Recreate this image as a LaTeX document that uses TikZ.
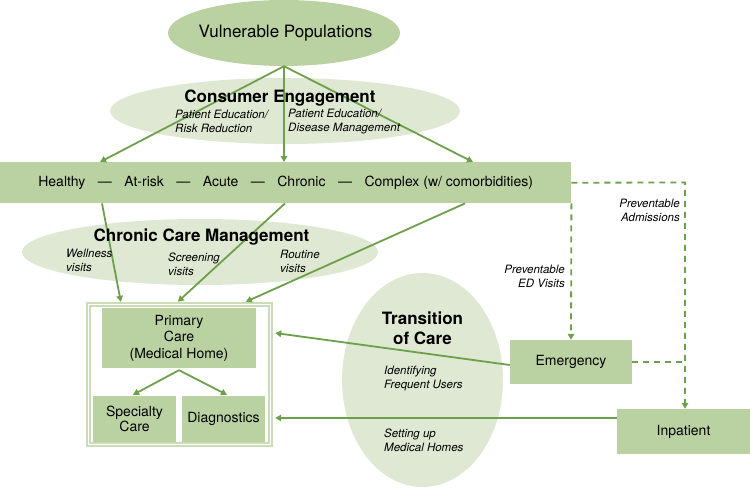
\documentclass[tikz,border=0pt]{standalone}
\usepackage{fontspec}
\setmainfont{TeX Gyre Heros}
\usetikzlibrary{shapes.geometric,arrows.meta,calc}
\definecolor{boxg}{RGB}{186,209,162}
\definecolor{lightg}{RGB}{222,232,210}
\definecolor{frameg}{RGB}{203,221,184}
\definecolor{lineg}{RGB}{110,160,75}
\tikzset{
  boxnode/.style={rectangle, fill=boxg, inner sep=0pt, align=center, font=\fontsize{14}{16.5}\selectfont},
  ellnode/.style={ellipse, inner sep=0pt},
  arr/.style={draw=lineg, line width=1.8pt, -{Triangle[length=6pt,width=6.5pt]}},
  dline/.style={draw=lineg, line width=1.8pt, dash pattern=on 6pt off 5pt},
  darr/.style={dline, -{Triangle[length=6pt,width=6.5pt]}},
  ttl/.style={inner sep=0pt, font=\fontsize{17}{20}\selectfont\bfseries, align=center},
  lbl/.style={inner sep=0pt, font=\fontsize{11.5}{14}\selectfont\itshape},
}
\begin{document}
\begin{tikzpicture}[x=1pt,y=-1pt]
\useasboundingbox (0,0) rectangle (750,488);
% ellipses
\node[ellnode, fill=boxg, minimum width=232pt, minimum height=66pt] (vp) at (284,33) {};
\node[ellnode, fill=lightg, minimum width=350pt, minimum height=66pt] (ce) at (285,111) {};
\node[ellnode, fill=lightg, minimum width=356pt, minimum height=66pt] (ccm) at (200,252) {};
\node[ellnode, fill=lightg, minimum width=161pt, minimum height=214pt] (toc) at (422.5,380) {};
% spectrum box
\node[boxnode, minimum width=571pt, minimum height=41pt, anchor=north west] (spec) at (0,162)
  {Healthy\hspace{12.5pt}—\hspace{12.5pt}At-risk\hspace{12.5pt}—\hspace{12.5pt}Acute\hspace{12.5pt}—\hspace{12.5pt}Chronic\hspace{12.5pt}—\hspace{12.5pt}Complex (w/ comorbidities)};
% frame
\node[rectangle, fill=frameg, inner sep=0pt, minimum width=187pt, minimum height=145pt] (frame) at (179.5,374.5) {};
\draw[white, line width=1pt] ($(frame.north west)+(2.5,2.5)$) rectangle ($(frame.south east)+(-2.5,-2.5)$);
\fill[white] ($(frame.north west)+(5,5)$) rectangle ($(frame.south east)+(-5,-5)$);
% boxes
\node[boxnode, minimum width=154pt, minimum height=60pt] (pc) at (179,338) {Primary\\Care\\(Medical Home)};
\node[boxnode, minimum width=83pt, minimum height=46pt, font=\fontsize{14}{15.5}\selectfont] (sc) at (134.5,419) {Specialty\\Care};
\node[boxnode, minimum width=83pt, minimum height=46pt] (dg) at (223.5,419) {Diagnostics};
\node[boxnode, minimum width=122pt, minimum height=44pt] (em) at (571,362) {Emergency};
\node[boxnode, minimum width=133pt, minimum height=45pt] (inp) at (683.5,431.5) {Inpatient};
% arrows top
\draw[arr] (vp.south) -- ($(spec.north west)+(100,0)$);
\draw[arr] (vp.south) -- ($(spec.north west)+(284,0)$);
\draw[arr] (vp.south) -- ($(spec.north west)+(473,0)$);
% arrows to primary care frame
\draw[arr] ($(spec.south west)+(102,0)$) -- ($(frame.north west)+(35,0)$);
\draw[arr] ($(spec.south west)+(285,0)$) -- ($(frame.north west)+(92,0)$);
\draw[arr] ($(spec.south west)+(465,0)$) -- ($(frame.north west)+(160,0)$);
% inside frame
\draw[arr] ($(pc.south)+(0,2)$) -- ($(sc.north)+(-1.5,-1)$);
\draw[arr] ($(pc.south)+(0,2)$) -- ($(dg.north)+(3.5,-1)$);
% from emergency and inpatient
\draw[arr] ($(em.west)+(0,3)$) -- ($(frame.east)+(2,-41.5)$);
\coordinate (inpL) at ($(inp.west)+(0,-13.5)$);
\draw[arr] (inpL) -- ($(frame.east |- inpL)+(2,0)$);
% dashed
\coordinate (dr) at (685,182.5);
\draw[darr] (spec.east) -- (dr) -- (dr |- inp.north);
\draw[darr] (spec.south east) -- (em.north);
\draw[dline] (em.east) -- (em.east -| dr);
% texts
\node[inner sep=0pt, font=\fontsize{17}{20}\selectfont] (vpt) at (285.5,33) {Vulnerable Populations};
\node[ttl] (cet) at (280,98) {Consumer Engagement};
\node[lbl, anchor=west, align=left] (ce1) at (175,121.5) {Patient Education/\\Risk Reduction};
\node[lbl, anchor=west, align=left] (ce2) at (288,121.5) {Patient Education/\\Disease Management};
\node[ttl] (ccmt) at (201.5,237) {Chronic Care Management};
\node[lbl, anchor=west, align=left] (cc1) at (66,260) {Wellness\\visits};
\node[lbl, anchor=west, align=left] (cc2) at (168,264) {Screening\\visits};
\node[lbl, anchor=west, align=left] (cc3) at (280,261) {Routine\\visits};
\node[ttl] (toct) at (422.5,328) {Transition\\of Care};
\node[lbl, anchor=west, align=left] (tc1) at (384,379) {Identifying\\Frequent Users};
\node[lbl, anchor=west, align=left] (tc2) at (384,440.5) {Setting up\\Medical Homes};
\node[lbl, anchor=east, align=right] (pa) at (680,210) {Preventable\\Admissions};
\node[lbl, anchor=east, align=right] (ped) at (565,276) {Preventable\\ED Visits};
\end{tikzpicture}
\end{document}
